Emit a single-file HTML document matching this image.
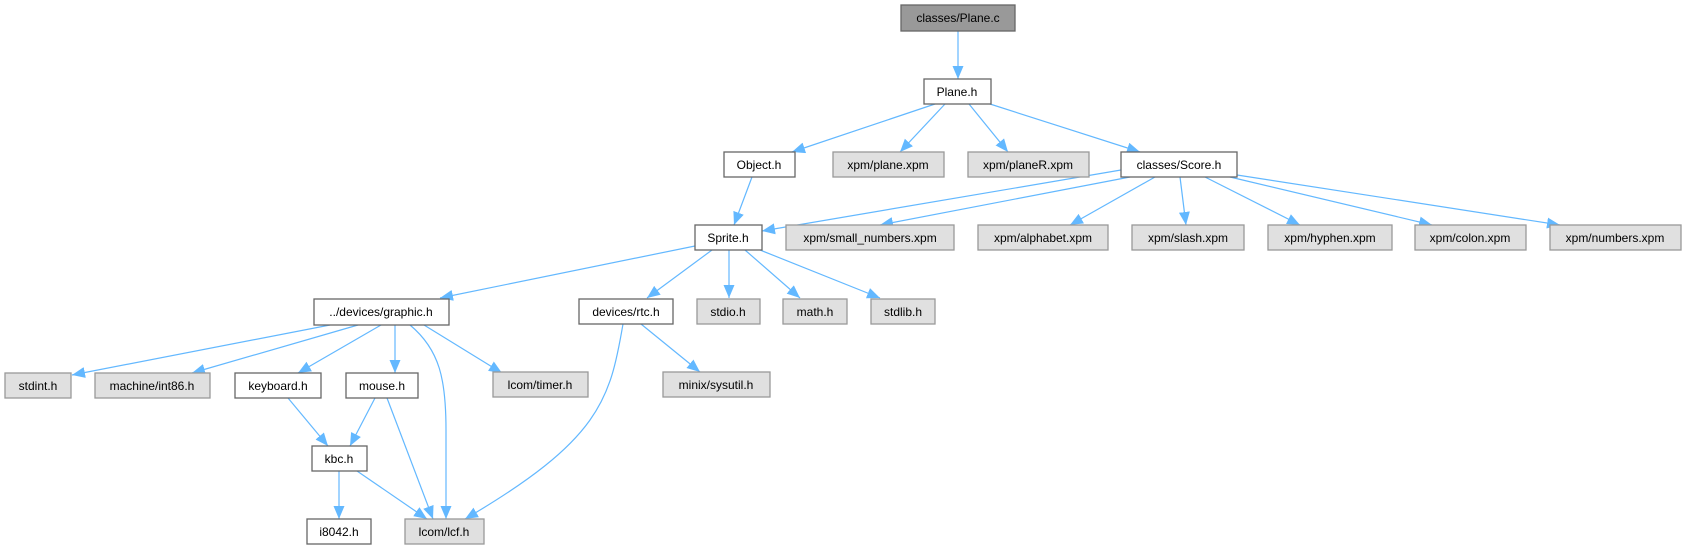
<!DOCTYPE html>
<html><head><meta charset="utf-8"><style>
html,body{margin:0;padding:0;background:#fff;}
svg{display:block;}
text{font-family:"Liberation Sans",Arial,sans-serif;font-size:12px;fill:#000;text-anchor:middle;}
.n{fill:#fff;stroke:#666;stroke-width:1.3;}
.g{fill:#e0e0e0;stroke:#999;stroke-width:1.3;}
.r{fill:#999;stroke:#666;stroke-width:1.3;}
.e{stroke:#63b8ff;stroke-width:1.2;fill:none;marker-end:url(#a);}
</style></head><body>
<svg width="1686" height="549" viewBox="0 0 1686 549" xmlns="http://www.w3.org/2000/svg">
<defs><marker id="a" markerUnits="userSpaceOnUse" markerWidth="14" markerHeight="12" refX="13" refY="5.5" orient="auto"><path d="M0,0 L13,5.5 L0,11 z" fill="#63b8ff"/></marker></defs>
<g>
<path class="e" d="M958,31 L958,79"/>
<path class="e" d="M935,104 L792,152"/>
<path class="e" d="M945,104 L900,152"/>
<path class="e" d="M969,104 L1008,152"/>
<path class="e" d="M990,104 L1140,152"/>
<path class="e" d="M752,177 L734,225"/>
<path class="e" d="M1121,170 L762,231"/>
<path class="e" d="M1130,177 L880,225"/>
<path class="e" d="M1155,177 L1070,225"/>
<path class="e" d="M1180,177 L1186,225"/>
<path class="e" d="M1205,177 L1300,225"/>
<path class="e" d="M1230,177 L1432,225"/>
<path class="e" d="M1237,175 L1560,225"/>
<path class="e" d="M695,246 L440,298"/>
<path class="e" d="M712,250 L647,298"/>
<path class="e" d="M729,250 L729,298"/>
<path class="e" d="M745,250 L800,298"/>
<path class="e" d="M760,250 L880,298"/>
<path class="e" d="M330,325 L72,375"/>
<path class="e" d="M358,325 L192,373"/>
<path class="e" d="M381,325 L298,373"/>
<path class="e" d="M395,325 L395,373"/>
<path class="e" d="M410,325 C440,350 446,380 446,430 L446,519"/>
<path class="e" d="M424,325 L502,373"/>
<path class="e" d="M623,324 C610,400 600,440 465,519"/>
<path class="e" d="M641,324 L700,372"/>
<path class="e" d="M288,398 L328,446"/>
<path class="e" d="M375,398 L350,446"/>
<path class="e" d="M387,398 L433,519"/>
<path class="e" d="M339,471 L339,519"/>
<path class="e" d="M357,471 L427,519"/>
</g>
<g>
<rect class="r" x="901" y="5" width="114" height="26"/><text x="958" y="22">classes/Plane.c</text>
<rect class="n" x="924" y="79" width="67" height="25"/><text x="957" y="96">Plane.h</text>
<rect class="n" x="724" y="152" width="71" height="25"/><text x="759" y="169">Object.h</text>
<rect class="g" x="833" y="152" width="111" height="25"/><text x="888" y="169">xpm/plane.xpm</text>
<rect class="g" x="968" y="152" width="121" height="25"/><text x="1028" y="169">xpm/planeR.xpm</text>
<rect class="n" x="1121" y="152" width="116" height="25"/><text x="1179" y="169">classes/Score.h</text>
<rect class="n" x="695" y="225" width="67" height="25"/><text x="728" y="242">Sprite.h</text>
<rect class="g" x="786" y="225" width="168" height="25"/><text x="870" y="242">xpm/small_numbers.xpm</text>
<rect class="g" x="978" y="225" width="130" height="25"/><text x="1043" y="242">xpm/alphabet.xpm</text>
<rect class="g" x="1132" y="225" width="112" height="25"/><text x="1188" y="242">xpm/slash.xpm</text>
<rect class="g" x="1268" y="225" width="124" height="25"/><text x="1330" y="242">xpm/hyphen.xpm</text>
<rect class="g" x="1415" y="225" width="111" height="25"/><text x="1470" y="242">xpm/colon.xpm</text>
<rect class="g" x="1550" y="225" width="131" height="25"/><text x="1615" y="242">xpm/numbers.xpm</text>
<rect class="n" x="314" y="299" width="135" height="26"/><text x="381" y="316">../devices/graphic.h</text>
<rect class="n" x="579" y="299" width="94" height="25"/><text x="626" y="316">devices/rtc.h</text>
<rect class="g" x="697" y="299" width="63" height="25"/><text x="728" y="316">stdio.h</text>
<rect class="g" x="783" y="299" width="64" height="25"/><text x="815" y="316">math.h</text>
<rect class="g" x="871" y="299" width="64" height="25"/><text x="903" y="316">stdlib.h</text>
<rect class="g" x="5" y="373" width="66" height="25"/><text x="38" y="390">stdint.h</text>
<rect class="g" x="95" y="373" width="115" height="25"/><text x="152" y="390">machine/int86.h</text>
<rect class="n" x="235" y="373" width="86" height="25"/><text x="278" y="390">keyboard.h</text>
<rect class="n" x="346" y="373" width="72" height="25"/><text x="382" y="390">mouse.h</text>
<rect class="g" x="493" y="372" width="95" height="25"/><text x="540" y="389">lcom/timer.h</text>
<rect class="g" x="663" y="372" width="107" height="25"/><text x="716" y="389">minix/sysutil.h</text>
<rect class="n" x="312" y="446" width="55" height="25"/><text x="339" y="463">kbc.h</text>
<rect class="n" x="307" y="519" width="64" height="25"/><text x="339" y="536">i8042.h</text>
<rect class="g" x="405" y="519" width="79" height="25"/><text x="444" y="536">lcom/lcf.h</text>
</g>
</svg>
</body></html>
